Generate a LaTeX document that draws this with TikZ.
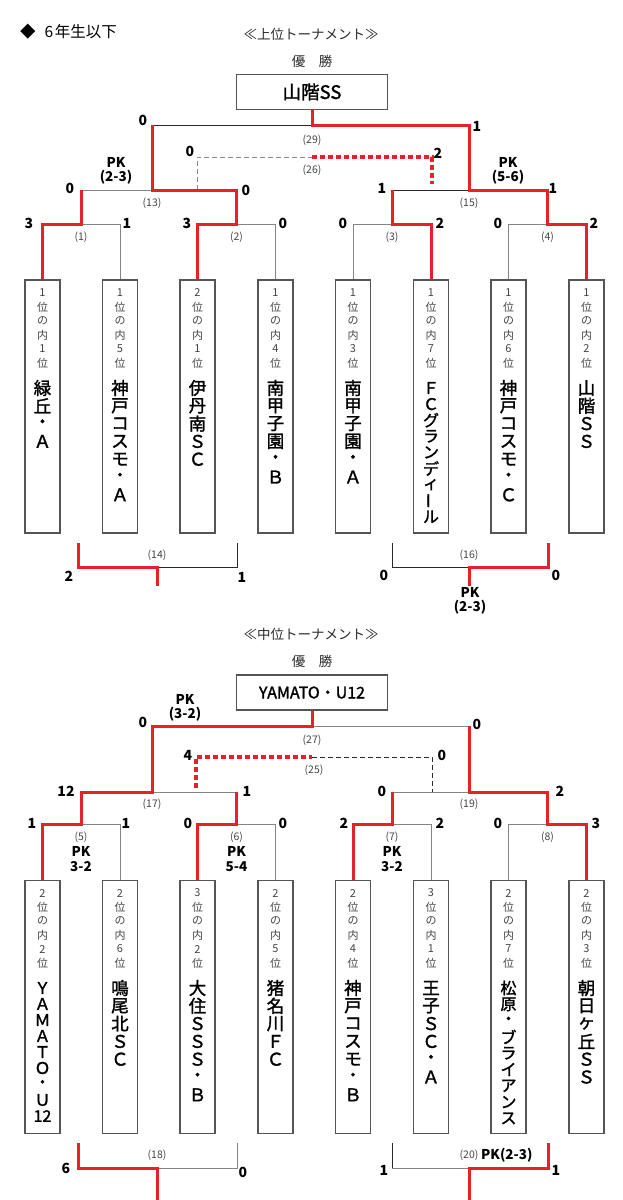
\documentclass[tikz,border=0pt]{standalone}
\usepackage{fontspec}
\setmainfont{Noto Sans CJK JP}
\newfontfamily\medf[FakeBold=1.6]{Noto Sans CJK JP}
\usetikzlibrary{calc}
\definecolor{rd}{HTML}{E8202A}
\definecolor{gl}{HTML}{858585}
\definecolor{dk}{HTML}{2A2A2A}
\definecolor{tx}{HTML}{444444}
\definecolor{bx}{HTML}{555555}
\newcommand\vstk[6]{\foreach \c [count=\i] in {#6} {\node[#5] (#1-\i) at (#2,{#3+(\i-1)*#4}) {\c};}}
\tikzset{
 win/.style={rd, line width=3pt},
 ln/.style={gl, line width=1pt},
 lk/.style={dk, line width=1pt},
 thd/.style={gl, line width=1pt, dash pattern=on 5pt off 3pt},
 thk/.style={dk, line width=1pt, dash pattern=on 5pt off 3pt},
 wind/.style={rd, line width=3.5pt, dash pattern=on 5pt off 3pt},
 tbox/.style={draw=bx, line width=1.3pt, minimum width=35pt, minimum height=253pt, inner sep=0},
 cbox/.style={draw=bx, line width=1.3pt, minimum width=151pt, minimum height=35pt, inner sep=0},
 sc/.style={font=\fontsize{14}{14}\selectfont\bfseries, inner sep=0},
 lab/.style={font=\fontsize{10.5}{10.5}\selectfont, text=tx, inner sep=0},
 pk/.style={font=\fontsize{13.5}{14.5}\selectfont\bfseries, align=center, inner sep=0},
 sm/.style={font=\fontsize{11}{11}\selectfont, text=tx, inner sep=0},
 nm/.style={font=\fontsize{17.5}{17.5}\selectfont\medf, inner sep=0},
 nms/.style={font=\fontsize{16}{16}\selectfont\medf, inner sep=0},
 hd/.style={font=\fontsize{13.5}{13.5}\selectfont, text=dk, inner sep=0},
}
\begin{document}
\begin{tikzpicture}[x=1pt,y=-1pt]
\useasboundingbox (0,0) rectangle (622,1200);
% ===== header =====
\node[font=\fontsize{15.5}{15.5}\selectfont, anchor=west, inner sep=0] (title) at (20,32) {◆\hspace{9pt}6\hspace{1.5pt}年生以下};
\node[hd] (h1) at (311,34) {≪上位トーナメント≫};
\node[hd] (y1) at (312,61) {優\hspace{1em}勝};
\node[cbox] (champ) at (312,92) {\fontsize{18.5}{18.5}\selectfont\medf 山階SS};
% ===== top team boxes =====
\node[tbox] (t1) at (42.5,406.5) {};
\node[tbox] (t2) at (120,406.5) {};
\node[tbox] (t3) at (197.5,406.5) {};
\node[tbox] (t4) at (275.5,406.5) {};
\node[tbox] (t5) at (353,406.5) {};
\node[tbox] (t6) at (431,406.5) {};
\node[tbox] (t7) at (508.5,406.5) {};
\node[tbox] (t8) at (586.5,406.5) {};
\vstk{t1s}{42.5}{293}{14}{sm}{1,位,の,内,1,位}
\vstk{t2s}{120}{293}{14}{sm}{1,位,の,内,5,位}
\vstk{t3s}{197.5}{293}{14}{sm}{2,位,の,内,1,位}
\vstk{t4s}{275.5}{293}{14}{sm}{1,位,の,内,4,位}
\vstk{t5s}{353}{293}{14}{sm}{1,位,の,内,3,位}
\vstk{t6s}{431}{293}{14}{sm}{1,位,の,内,7,位}
\vstk{t7s}{508.5}{293}{14}{sm}{1,位,の,内,6,位}
\vstk{t8s}{586.5}{293}{14}{sm}{1,位,の,内,2,位}
\vstk{t1n}{42.5}{388}{17.8}{nm}{緑,丘,・,Ａ}
\vstk{t2n}{120}{388}{17.8}{nm}{神,戸,コ,ス,モ,・,Ａ}
\vstk{t3n}{197.5}{388}{17.8}{nm}{伊,丹,南,Ｓ,Ｃ}
\vstk{t4n}{275.5}{388}{17.8}{nm}{南,甲,子,園,・,Ｂ}
\vstk{t5n}{353}{388}{17.8}{nm}{南,甲,子,園,・,Ａ}
\vstk{t6n}{431}{388}{16.1}{nms}{Ｆ,Ｃ,グ,ラ,ン,デ,ィ,{\rotatebox[origin=c]{90}{ー}},ル}
\vstk{t7n}{508.5}{388}{17.8}{nm}{神,戸,コ,ス,モ,・,Ｃ}
\vstk{t8n}{586.5}{388}{17.8}{nm}{山,階,Ｓ,Ｓ}
% ===== top bracket =====
\coordinate (q1) at (81,224);
\coordinate (q2) at (236.5,224);
\coordinate (q3) at (392,224);
\coordinate (q4) at (547.5,224);
\coordinate (sL) at (152,190);
\coordinate (sR) at (469,190);
\coordinate (f) at (312,125);
\coordinate (thL) at (197,157);
\coordinate (thM) at (312,157);
\coordinate (thR) at (432,157);
\coordinate (thRe) at (432,184);
\draw[ln] (q1) -| (t2.north);
\draw[ln] (q2) -| (t4.north);
\draw[ln] (q3) -| (t5.north);
\draw[ln] (q4) -| (t7.north);
\draw[ln] (q1|-sL) -- (sL);
\draw[lk] (q3|-sR) -- (sR);
\draw[lk] (sL|-f) -- (f);
\draw[thd] (thL|-sL) -- (thL) -- (thM);
\draw[wind] (thM) -- (thR) -- (thRe);
\draw[win] (t1.north) |- (q1) -- (q1|-sL);
\draw[win] (t3.north) |- (q2) -- (q2|-sL) -- (sL) -- (sL|-f);
\draw[win] (t6.north) |- (q3) -- (q3|-sR);
\draw[win] (t8.north) |- (q4) -- (q4|-sR) -- (sR) -- (sR|-f) -- (f) -- (champ.south);
% labels
\node[lab] (l29) at (312,140) {(29)};
\node[lab] (l26) at (312,170) {(26)};
\node[lab] (l13) at (152,203) {(13)};
\node[lab] (l15) at (469,203) {(15)};
\node[lab] (l1) at (81,237) {(1)};
\node[lab] (l2) at (236.5,237) {(2)};
\node[lab] (l3) at (392,237) {(3)};
\node[lab] (l4) at (547.5,237) {(4)};
% scores
\node[sc] (a1) at (143,120) {0};
\node[sc] (a2) at (477,126) {1};
\node[sc] (a3) at (190,151) {0};
\node[sc] (a4) at (438,153) {2};
\node[sc] (a5) at (70,188) {0};
\node[sc] (a6) at (246,190) {0};
\node[sc] (a7) at (382,188) {1};
\node[sc] (a8) at (553,188) {1};
\node[pk] (pk1) at (116,171) {PK\\(2-3)};
\node[pk] (pk2) at (508,171) {PK\\(5-6)};
\node[sc] (b1) at (29,223) {3};
\node[sc] (b2) at (127,223) {1};
\node[sc] (b3) at (187,223) {3};
\node[sc] (b4) at (283,223) {0};
\node[sc] (b5) at (343,223) {0};
\node[sc] (b6) at (440,223) {2};
\node[sc] (b7) at (498,223) {0};
\node[sc] (b8) at (594,223) {2};
% ===== (14) (16) =====
\coordinate (c14a) at (78,543);
\coordinate (c14b) at (78,567);
\coordinate (c14m) at (157,567);
\coordinate (c14d) at (157,586);
\coordinate (c14c) at (237,567);
\coordinate (c14e) at (237,543);
\draw[lk] (c14m) -- (c14c) -- (c14e);
\draw[win] (c14a) -- (c14b) -- (c14m) -- (c14d);
\coordinate (c16a) at (392,543);
\coordinate (c16b) at (392,567);
\coordinate (c16m) at (469,567);
\coordinate (c16d) at (469,586);
\coordinate (c16c) at (548,567);
\coordinate (c16e) at (548,543);
\draw[lk] (c16a) -- (c16b) -- (c16m);
\draw[win] (c16e) -- (c16c) -- (c16m) -- (c16d);
\node[lab] (l14) at (157,555) {(14)};
\node[lab] (l16) at (469,555) {(16)};
\node[sc] (d1) at (69,576) {2};
\node[sc] (d2) at (242,577) {1};
\node[sc] (d3) at (384,575) {0};
\node[sc] (d4) at (556,575) {0};
\node[pk] (pk3) at (470,601) {PK\\(2-3)};
% ===== middle header =====
\node[hd] (h2) at (311,634) {≪中位トーナメント≫};
\node[hd] (y2) at (312,661) {優\hspace{1em}勝};
\node[cbox] (champ2) at (312,692.5) {\fontsize{16}{16}\selectfont\medf YAMATO・U12};
% ===== middle team boxes =====
\node[tbox] (m1) at (42.5,1007) {};
\node[tbox] (m2) at (120,1007) {};
\node[tbox] (m3) at (197.5,1007) {};
\node[tbox] (m4) at (275.5,1007) {};
\node[tbox] (m5) at (353,1007) {};
\node[tbox] (m6) at (431,1007) {};
\node[tbox] (m7) at (508.5,1007) {};
\node[tbox] (m8) at (586.5,1007) {};
\vstk{m1s}{42.5}{893}{14}{sm}{2,位,の,内,2,位}
\vstk{m2s}{120}{893}{14}{sm}{2,位,の,内,6,位}
\vstk{m3s}{197.5}{893}{14}{sm}{3,位,の,内,2,位}
\vstk{m4s}{275.5}{893}{14}{sm}{2,位,の,内,5,位}
\vstk{m5s}{353}{893}{14}{sm}{2,位,の,内,4,位}
\vstk{m6s}{431}{893}{14}{sm}{3,位,の,内,1,位}
\vstk{m7s}{508.5}{893}{14}{sm}{2,位,の,内,7,位}
\vstk{m8s}{586.5}{893}{14}{sm}{2,位,の,内,3,位}
\vstk{m1n}{42.5}{988}{16}{nms}{Ｙ,Ａ,Ｍ,Ａ,Ｔ,Ｏ,・,Ｕ,12}
\vstk{m2n}{120}{988}{17.8}{nm}{鳴,尾,北,Ｓ,Ｃ}
\vstk{m3n}{197.5}{988}{17.8}{nm}{大,住,Ｓ,Ｓ,Ｓ,・,Ｂ}
\vstk{m4n}{275.5}{988}{17.8}{nm}{猪,名,川,Ｆ,Ｃ}
\vstk{m5n}{353}{988}{17.8}{nm}{神,戸,コ,ス,モ,・,Ｂ}
\vstk{m6n}{431}{988}{17.8}{nm}{王,子,Ｓ,Ｃ,・,Ａ}
\vstk{m7n}{508.5}{988}{16.3}{nms}{松,原,・,ブ,ラ,イ,ア,ン,ス}
\vstk{m8n}{586.5}{988}{17.8}{nm}{朝,日,ヶ,丘,Ｓ,Ｓ}
% ===== middle bracket =====
\coordinate (q5) at (81,824);
\coordinate (q6) at (236.5,824);
\coordinate (q7) at (392,824);
\coordinate (q8) at (547.5,824);
\coordinate (sL2) at (152,792);
\coordinate (sR2) at (469,792);
\coordinate (f2) at (312,726);
\coordinate (tL2) at (196,757);
\coordinate (tM2) at (312,757);
\coordinate (tR2) at (432,757);
\coordinate (tL2e) at (196,788);
\draw[ln] (q5) -| (m2.north);
\draw[ln] (q6) -| (m4.north);
\draw[ln] (q7) -| (m6.north);
\draw[ln] (q8) -| (m7.north);
\draw[ln] (sL2) -- (q6|-sL2);
\draw[ln] (q7|-sR2) -- (sR2);
\draw[ln] (f2) -- (sR2|-f2);
\draw[thk] (tM2) -- (tR2) -- (tR2|-sR2);
\draw[wind] (tL2e) -- (tL2) -- (tM2);
\draw[win] (m1.north) |- (q5) -- (q5|-sL2) -- (sL2) -- (sL2|-f2) -- (f2) -- (champ2.south);
\draw[win] (m3.north) |- (q6) -- (q6|-sL2);
\draw[win] (m5.north) |- (q7) -- (q7|-sR2);
\draw[win] (m8.north) |- (q8) -- (q8|-sR2) -- (sR2) -- (sR2|-f2);
\node[lab] (l27) at (312,740) {(27)};
\node[lab] (l25) at (314,770) {(25)};
\node[lab] (l17) at (152,804) {(17)};
\node[lab] (l19) at (469,804) {(19)};
\node[lab] (l5) at (81,837) {(5)};
\node[lab] (l6) at (236.5,837) {(6)};
\node[lab] (l7) at (392,837) {(7)};
\node[lab] (l8) at (547.5,837) {(8)};
\node[sc] (e1) at (143,722) {0};
\node[sc] (e2) at (477,724) {0};
\node[pk] (pk4) at (185,708) {PK\\(3-2)};
\node[sc] (e3) at (188,755) {4};
\node[sc] (e4) at (442,755) {0};
\node[sc] (e5) at (66,791) {12};
\node[sc] (e6) at (247,791) {1};
\node[sc] (e7) at (382,791) {0};
\node[sc] (e8) at (560,791) {2};
\node[sc] (g1) at (32,823) {1};
\node[sc] (g2) at (126,823) {1};
\node[sc] (g3) at (188,823) {0};
\node[sc] (g4) at (283,823) {0};
\node[sc] (g5) at (344,823) {2};
\node[sc] (g6) at (440,823) {2};
\node[sc] (g7) at (498,823) {0};
\node[sc] (g8) at (596,823) {3};
\node[pk] (pk5) at (81,859) {PK\\3-2};
\node[pk] (pk6) at (236.5,859) {PK\\5-4};
\node[pk] (pk7) at (392,859) {PK\\3-2};
% ===== (18) (20) =====
\coordinate (c18a) at (78,1143);
\coordinate (c18b) at (78,1168);
\coordinate (c18m) at (157,1168);
\coordinate (c18d) at (157,1200);
\coordinate (c18c) at (237,1168);
\coordinate (c18e) at (237,1143);
\draw[ln] (c18m) -- (c18c) -- (c18e);
\draw[win] (c18a) -- (c18b) -- (c18m) -- (c18d);
\coordinate (c20a) at (392,1143);
\coordinate (c20b) at (392,1168);
\coordinate (c20m) at (469,1168);
\coordinate (c20d) at (469,1200);
\coordinate (c20c) at (548,1168);
\coordinate (c20e) at (548,1143);
\draw[lk] (c20a) -- (c20b);
\draw[ln] (c20b) -- (c20m);
\draw[win] (c20e) -- (c20c) -- (c20m) -- (c20d);
\node[lab] (l18) at (157,1155) {(18)};
\node[lab] (l20) at (469,1155) {(20)};
\node[pk, anchor=west] (pk8) at (481,1155) {PK(2-3)};
\node[sc] (k1) at (66,1168) {6};
\node[sc] (k2) at (243,1172) {0};
\node[sc] (k3) at (384,1170) {1};
\node[sc] (k4) at (556,1170) {1};
\end{tikzpicture}
\end{document}
